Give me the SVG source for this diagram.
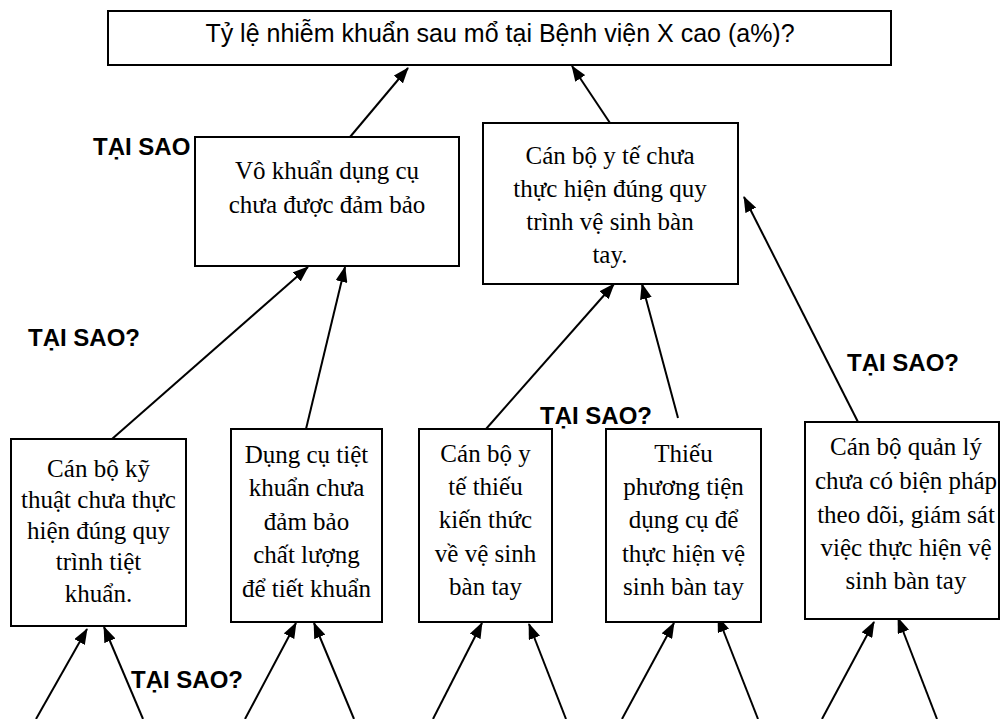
<svg xmlns="http://www.w3.org/2000/svg" width="1003" height="719" viewBox="0 0 1003 719">
<style>
.box{fill:#fff;stroke:#000;stroke-width:2}
.t{font-family:"Liberation Serif","Times New Roman",serif;font-size:25px;fill:#000;text-anchor:middle}
.s{font-family:"Liberation Sans",Arial,sans-serif;font-size:25px;fill:#000;text-anchor:middle}
.q{font-family:"Liberation Sans",Arial,sans-serif;font-size:24px;font-weight:bold;fill:#000}
.c{stroke:#000;stroke-width:2;fill:none;marker-end:url(#ah)}
.p{stroke:#000;stroke-width:2;fill:none}
</style>
<defs>
<marker id="ah" markerUnits="userSpaceOnUse" markerWidth="16" markerHeight="12" refX="15" refY="6" orient="auto">
<path d="M0,0 L16,6 L0,12 z" fill="#000"/>
</marker>
</defs>
<rect width="1003" height="719" fill="#fff"/>

<g id="labels">
<text class="q" x="93" y="155">TẠI SAO</text>
<text class="q" x="28" y="346">TẠI SAO?</text>
<text class="q" x="540" y="424">TẠI SAO?</text>
<text class="q" x="847" y="371">TẠI SAO?</text>
<text class="q" x="131" y="688">TẠI SAO?</text>
</g>

<g id="connectors">
<line class="c" x1="350" y1="137" x2="408" y2="68"/>
<line class="c" x1="610" y1="123" x2="572" y2="66"/>
<line class="c" x1="112" y1="439" x2="308" y2="267"/>
<line class="c" x1="306" y1="429" x2="345" y2="267"/>
<line class="c" x1="486" y1="429" x2="614" y2="284"/>
<line class="c" x1="678" y1="418" x2="642" y2="284"/>
<line class="c" x1="858" y1="422" x2="744" y2="197"/>
<line class="c" x1="36" y1="719" x2="87" y2="629"/>
<line class="c" x1="143" y1="719" x2="104" y2="627"/>
<line class="c" x1="245" y1="719" x2="296" y2="623"/>
<line class="c" x1="354" y1="719" x2="314" y2="623"/>
<line class="c" x1="433" y1="719" x2="482" y2="623"/>
<line class="c" x1="566" y1="719" x2="529" y2="624"/>
<line class="c" x1="622" y1="719" x2="674" y2="623"/>
<line class="c" x1="758" y1="719" x2="718" y2="617"/>
<line class="c" x1="822" y1="719" x2="874" y2="622"/>
<line class="c" x1="937" y1="719" x2="898" y2="618"/>
</g>

<g id="n0">
<rect class="box" x="108" y="11" width="783" height="54"/>
<text class="s" x="500" y="42">Tỷ lệ nhiễm khuẩn sau mổ tại Bệnh viện X cao (a%)?</text>
</g>

<g id="n1">
<rect class="box" x="195" y="137" width="264" height="129"/>
<text class="t" x="327" y="179">Vô khuẩn dụng cụ</text>
<text class="t" x="327" y="213">chưa được đảm bảo</text>
</g>

<g id="n2">
<rect class="box" x="483" y="123" width="255" height="161"/>
<text class="t" x="610" y="164">Cán bộ y tế chưa</text>
<text class="t" x="610" y="197">thực hiện đúng quy</text>
<text class="t" x="610" y="230">trình vệ sinh bàn</text>
<text class="t" x="610" y="263">tay.</text>
</g>

<g id="n3">
<rect class="box" x="11" y="439" width="175" height="187"/>
<text class="t" x="98.5" y="477">Cán bộ kỹ</text>
<text class="t" x="98.5" y="508">thuật chưa thực</text>
<text class="t" x="98.5" y="539">hiện đúng quy</text>
<text class="t" x="98.5" y="570">trình tiệt</text>
<text class="t" x="98.5" y="602">khuẩn.</text>
</g>

<g id="n4">
<rect class="box" x="231" y="429" width="151" height="193"/>
<text class="t" x="306.5" y="463">Dụng cụ tiệt</text>
<text class="t" x="306.5" y="496">khuẩn chưa</text>
<text class="t" x="306.5" y="530">đảm bảo</text>
<text class="t" x="306.5" y="563">chất lượng</text>
<text class="t" x="306.5" y="597">để tiết khuẩn</text>
</g>

<g id="n5">
<rect class="box" x="419" y="429" width="133" height="193"/>
<text class="t" x="485.5" y="462">Cán bộ y</text>
<text class="t" x="485.5" y="495">tế thiếu</text>
<text class="t" x="485.5" y="528">kiến thức</text>
<text class="t" x="485.5" y="562">về vệ sinh</text>
<text class="t" x="485.5" y="595">bàn tay</text>
</g>

<g id="n6">
<rect class="box" x="606" y="429" width="155" height="193"/>
<text class="t" x="683.5" y="462">Thiếu</text>
<text class="t" x="683.5" y="495">phương tiện</text>
<text class="t" x="683.5" y="528">dụng cụ để</text>
<text class="t" x="683.5" y="562">thực hiện vệ</text>
<text class="t" x="683.5" y="595">sinh bàn tay</text>
</g>

<g id="n7">
<rect class="box" x="805" y="422" width="194" height="197"/>
<text class="t" x="906" y="455">Cán bộ quản lý</text>
<text class="t" x="906" y="489">chưa có biện pháp</text>
<text class="t" x="906" y="523">theo dõi, giám sát</text>
<text class="t" x="906" y="556">việc thực hiện vệ</text>
<text class="t" x="906" y="589">sinh bàn tay</text>
</g>
</svg>
